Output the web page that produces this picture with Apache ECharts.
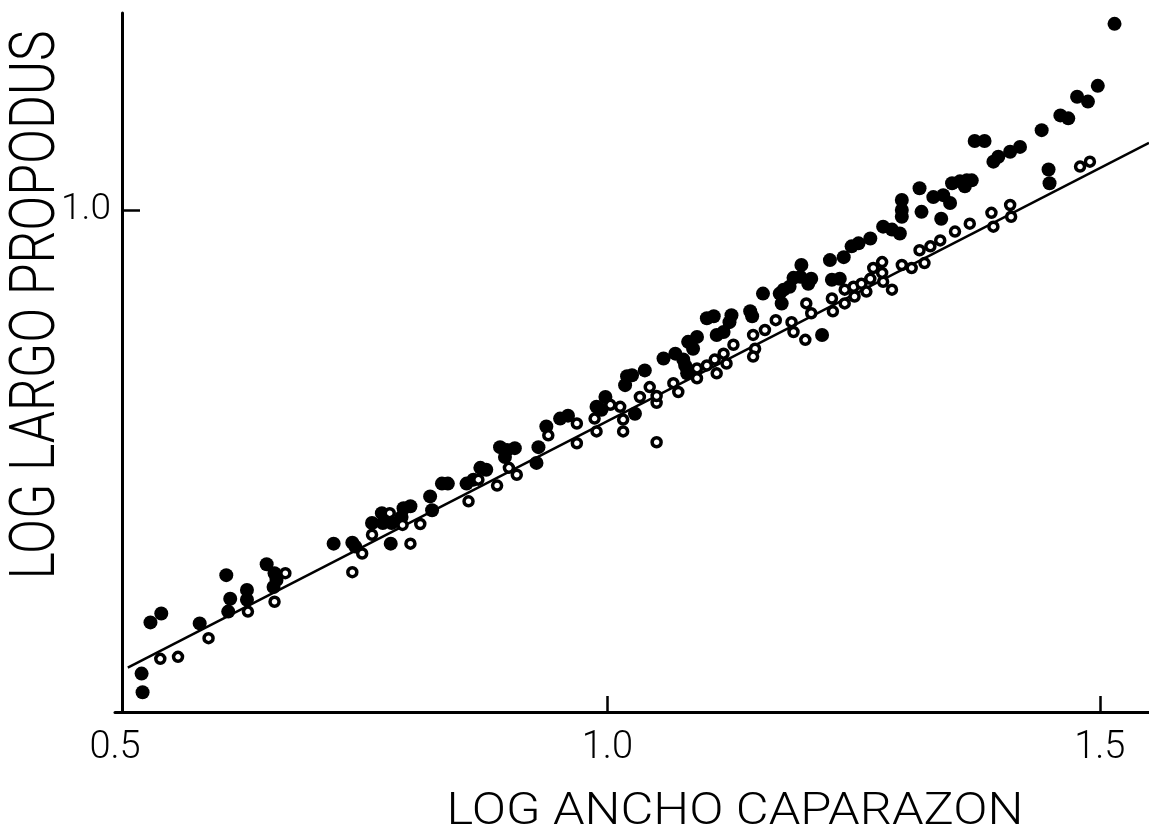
<!DOCTYPE html>
<html>
<head>
<meta charset="utf-8">
<script src="https://cdn.jsdelivr.net/npm/echarts@6/dist/echarts.min.js"></script>
<style>
  html, body { margin: 0; padding: 0; background: #fff; }
  #chart { width: 1149px; height: 829px; }
</style>
</head>
<body>
<div id="chart"></div>
<script>
// log carapace width (x) vs log propodus length (y)
const solidPoints = [
  [0.527,0.529],[0.528,0.510],[0.536,0.581],[0.547,0.590],[0.586,0.580],
  [0.613,0.629],[0.617,0.605],[0.615,0.592],[0.634,0.614],[0.634,0.604],
  [0.654,0.640],[0.662,0.631],[0.661,0.617],[0.664,0.624],[0.722,0.661],
  [0.741,0.662],[0.744,0.658],[0.761,0.682],[0.771,0.692],[0.776,0.688],
  [0.781,0.682],[0.772,0.682],[0.780,0.661],[0.793,0.697],[0.800,0.699],
  [0.791,0.688],[0.820,0.709],[0.822,0.695],[0.832,0.722],[0.838,0.722],
  [0.857,0.722],[0.864,0.726],[0.871,0.738],[0.877,0.736],[0.891,0.759],
  [0.898,0.756],[0.906,0.758],[0.896,0.749],[0.928,0.743],[0.930,0.759],
  [0.938,0.780],[0.952,0.788],[0.960,0.791],[0.989,0.800],[0.994,0.797],
  [0.998,0.810],[1.020,0.831],[1.025,0.832],[1.038,0.837],[1.018,0.822],
  [1.028,0.793],[1.057,0.849],[1.069,0.854],[1.077,0.848],[1.081,0.834],
  [1.079,0.842],[1.082,0.866],[1.091,0.871],[1.087,0.859],[1.101,0.890],
  [1.108,0.892],[1.111,0.873],[1.118,0.876],[1.126,0.893],[1.124,0.886],
  [1.145,0.897],[1.147,0.892],[1.158,0.915],[1.175,0.915],[1.177,0.905],
  [1.179,0.919],[1.185,0.922],[1.189,0.931],[1.196,0.932],[1.197,0.944],
  [1.204,0.925],[1.207,0.930],[1.218,0.873],[1.226,0.949],[1.228,0.929],
  [1.236,0.930],[1.240,0.952],[1.248,0.963],[1.255,0.966],[1.267,0.971],
  [1.280,0.983],[1.289,0.980],[1.297,0.976],[1.299,1.010],[1.299,1.000],
  [1.299,0.993],[1.317,1.022],[1.319,0.998],[1.331,1.013],[1.341,1.015],
  [1.348,1.007],[1.339,0.991],[1.350,1.027],[1.358,1.029],[1.365,1.030],
  [1.370,1.030],[1.363,1.024],[1.392,1.049],[1.397,1.054],[1.409,1.059],
  [1.419,1.064],[1.373,1.070],[1.383,1.070],[1.441,1.081],[1.448,1.041],
  [1.449,1.027],[1.460,1.096],[1.468,1.093],[1.477,1.115],[1.488,1.110],
  [1.498,1.126],[1.515,1.189]
];

const hollowPoints = [
  [0.546,0.544],[0.564,0.546],[0.595,0.565],[0.635,0.592],[0.673,0.631],
  [0.662,0.602],[0.741,0.632],[0.751,0.651],[0.761,0.670],[0.779,0.692],
  [0.792,0.680],[0.800,0.661],[0.810,0.681],[0.859,0.704],[0.869,0.726],
  [0.888,0.720],[0.900,0.738],[0.908,0.731],[0.940,0.771],[0.969,0.783],
  [0.969,0.763],[0.987,0.788],[0.989,0.775],[1.003,0.802],[1.013,0.800],
  [1.016,0.787],[1.016,0.775],[1.033,0.810],[1.043,0.820],[1.050,0.804],
  [1.050,0.811],[1.050,0.764],[1.067,0.824],[1.072,0.815],[1.091,0.839],
  [1.091,0.829],[1.101,0.842],[1.109,0.848],[1.111,0.834],[1.118,0.854],
  [1.121,0.844],[1.128,0.863],[1.148,0.873],[1.150,0.859],[1.148,0.851],
  [1.160,0.878],[1.171,0.888],[1.187,0.886],[1.189,0.876],[1.201,0.868],
  [1.202,0.905],[1.207,0.895],[1.228,0.910],[1.229,0.897],[1.241,0.905],
  [1.241,0.919],[1.250,0.922],[1.251,0.912],[1.258,0.925],[1.263,0.917],
  [1.267,0.930],[1.270,0.941],[1.279,0.947],[1.280,0.927],[1.279,0.936],
  [1.289,0.919],[1.299,0.944],[1.309,0.941],[1.317,0.959],[1.322,0.946],
  [1.328,0.963],[1.338,0.969],[1.353,0.978],[1.368,0.986],[1.390,0.997],
  [1.392,0.983],[1.409,1.005],[1.410,0.993],[1.480,1.044],[1.490,1.049]
];

// fitted straight line through the open-circle series
const fitLine = [[0.513, 0.535], [1.55, 1.068]];

const xTickValues = [1.0, 1.5];
const xLabelValues = [0.5, 1.0, 1.5];
const yTickValues = [1.0];
const yLabelValues = [1.0];

const xTitle = 'LOG ANCHO CAPARAZON';
const yTitle = 'LOG LARGO PROPODUS';

const FONT = 'Roboto, "DejaVu Sans", sans-serif';

const chart = echarts.init(document.getElementById('chart'), null, { renderer: 'canvas' });

chart.setOption({
  backgroundColor: '#ffffff',
  animation: false,
  grid: { left: 115, right: 0, top: 13, bottom: 117, containLabel: false },
  xAxis: {
    type: 'value',
    min: 0.5,
    max: 1.55,
    splitLine: { show: false },
    axisLine: { show: true, lineStyle: { color: '#000', width: 3 } },
    axisTick: {
      show: true, inside: true, length: 16, customValues: xTickValues,
      lineStyle: { color: '#000', width: 2.5 }
    },
    axisLabel: {
      customValues: xLabelValues,
      margin: 17,
      color: '#000',
      fontFamily: FONT,
      fontWeight: 300,
      fontSize: 38,
      formatter: v => v.toFixed(1)
    }
  },
  yAxis: {
    type: 'value',
    min: 0.49,
    max: 1.2,
    offset: -7,
    splitLine: { show: false },
    axisLine: { show: true, lineStyle: { color: '#000', width: 3 } },
    axisTick: {
      show: true, inside: true, length: 18, customValues: yTickValues,
      lineStyle: { color: '#000', width: 2.5 }
    },
    axisLabel: {
      customValues: yLabelValues,
      margin: 11,
      color: '#000',
      fontFamily: FONT,
      fontWeight: 300,
      fontSize: 37,
      formatter: v => v.toFixed(1)
    }
  },
  series: [
    {
      type: 'line',
      data: fitLine,
      symbol: 'none',
      lineStyle: { color: '#000', width: 2.5 },
      z: 1
    },
    {
      type: 'scatter',
      data: solidPoints,
      symbol: 'circle',
      symbolSize: 14,
      itemStyle: { color: '#000', opacity: 1 },
      z: 2
    },
    {
      type: 'scatter',
      data: hollowPoints,
      symbol: 'circle',
      symbolSize: 9,
      itemStyle: { color: '#fff', borderColor: '#000', borderWidth: 3.5, opacity: 1 },
      z: 3
    }
  ],
  graphic: [
    {
      type: 'text',
      x: 735,
      y: 813,
      scaleX: 1.125,
      style: {
        text: xTitle,
        fill: '#000',
        font: '300 45px ' + FONT,
        textAlign: 'center',
        textVerticalAlign: 'middle'
      }
    },
    {
      type: 'text',
      x: 38,
      y: 305,
      rotation: Math.PI / 2,
      scaleX: 0.82,
      style: {
        text: yTitle,
        fill: '#000',
        font: '300 63px ' + FONT,
        textAlign: 'center',
        textVerticalAlign: 'middle'
      }
    }
  ]
});
</script>
</body>
</html>
